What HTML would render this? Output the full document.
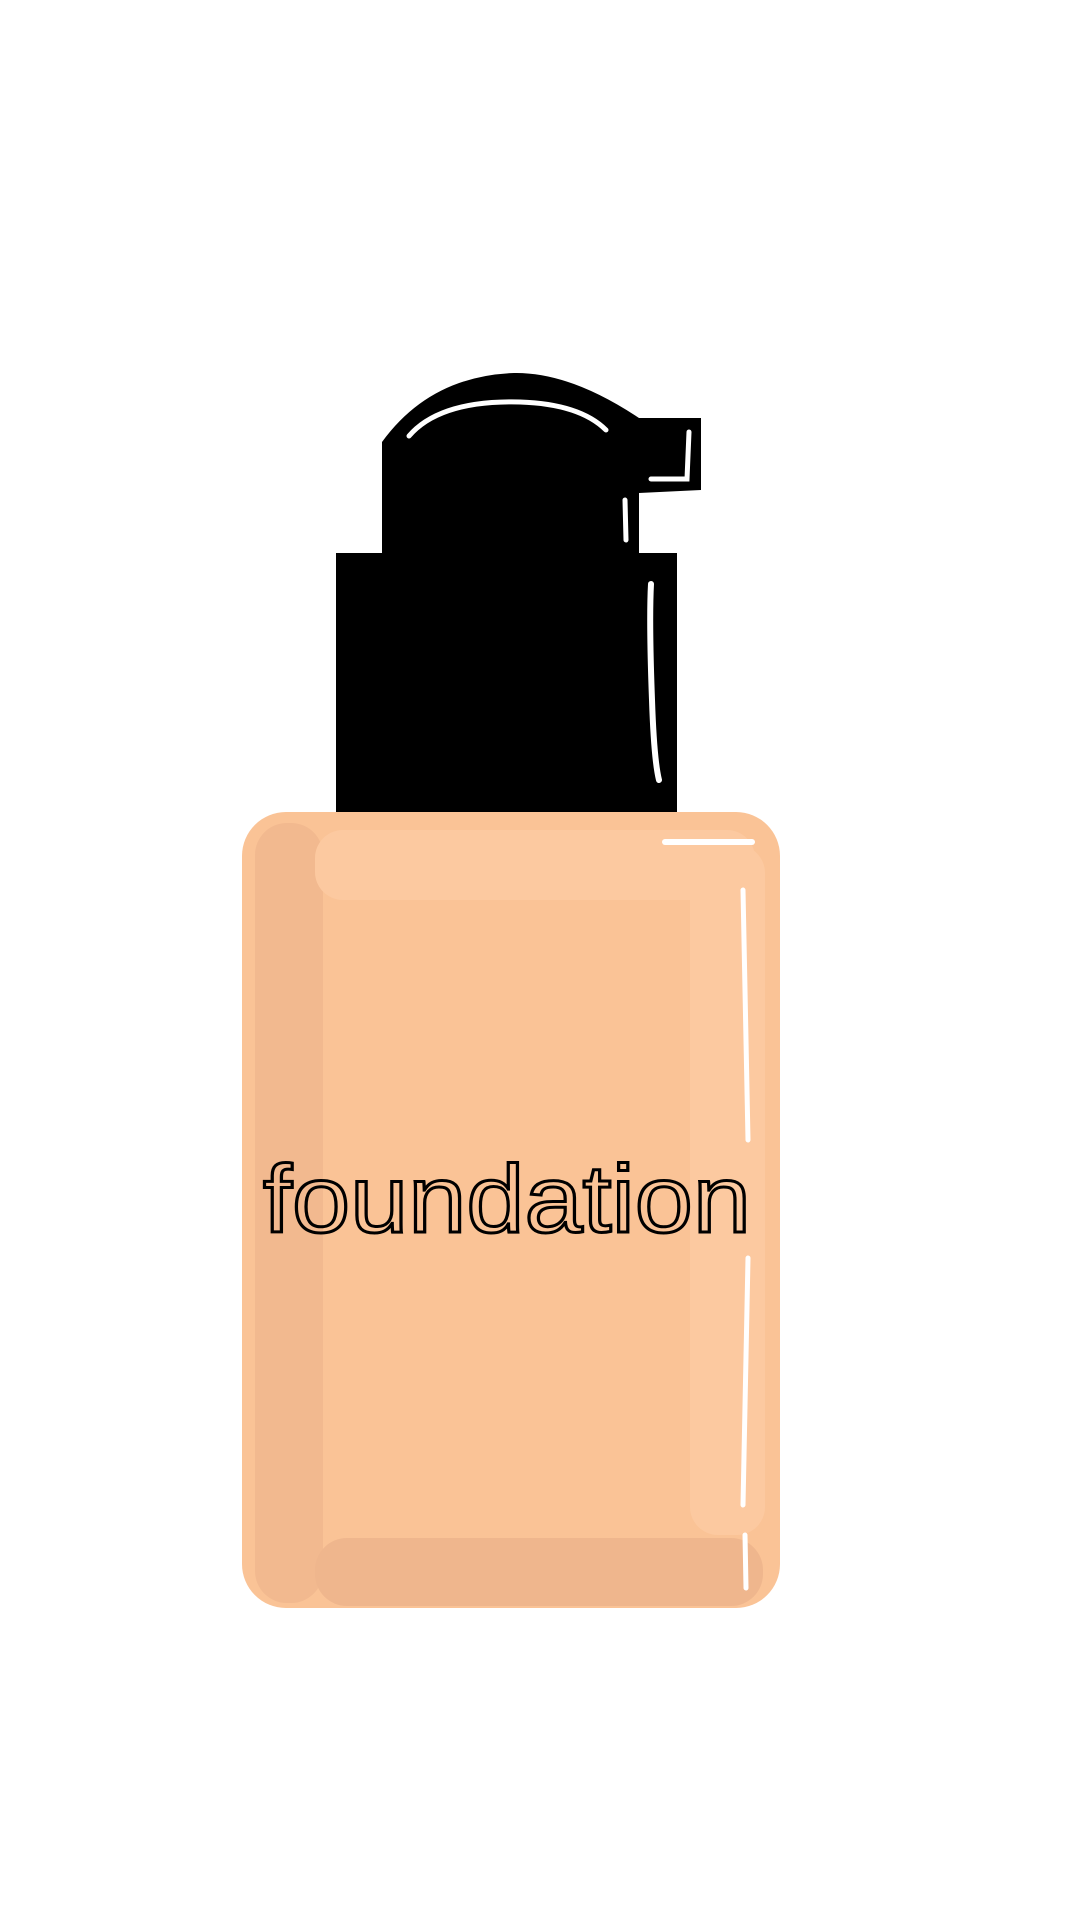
<!DOCTYPE html>
<html><head><meta charset="utf-8"><style>
html,body{margin:0;padding:0;background:#fff;width:1080px;height:1920px;overflow:hidden}
</style></head><body>
<svg width="1080" height="1920" viewBox="0 0 1080 1920">
<g>
<path d="M382,443 L382,442 Q430,376 514,373 Q570,372 639,418 L701,418 L701,490 L639,493 L639,553 L677,553 L677,813 L336,813 L336,553 L382,553 Z" fill="#000"/>
<path d="M409,436 Q440,400 520,402 Q580,404 606,430" fill="none" stroke="#fff" stroke-width="5" stroke-linecap="round"/>
<path d="M651,479 L687,479 L689,432" fill="none" stroke="#fff" stroke-width="5" stroke-linecap="round"/>
<path d="M625,500 L626,540" fill="none" stroke="#fff" stroke-width="5" stroke-linecap="round"/>
<path d="M651,584 Q649,620 652,700 Q654,760 659,780" fill="none" stroke="#fff" stroke-width="6" stroke-linecap="round"/>
</g>
<g>
<rect x="242" y="812" width="538" height="796" rx="44" fill="#fac396"/>
<rect x="255" y="823" width="68" height="780" rx="32" fill="#f2b98f"/>
<rect x="315" y="1538" width="448" height="68" rx="32" fill="#efb68d"/>
<rect x="315" y="830" width="440" height="70" rx="28" fill="#fcc9a0"/>
<rect x="690" y="845" width="75" height="690" rx="28" fill="#fcc9a0"/>
<path d="M665,842 L752,842" stroke="#fff" stroke-width="6" stroke-linecap="round"/>
<path d="M743,890 L748,1140" stroke="#fff" stroke-width="5" stroke-linecap="round"/>
<path d="M748,1258 L743,1505" stroke="#fff" stroke-width="5" stroke-linecap="round"/>
<path d="M745,1535 L746,1588" stroke="#fff" stroke-width="5" stroke-linecap="round"/>
<text x="263" y="1232" font-family="'Liberation Sans', sans-serif" font-size="96" textLength="488" lengthAdjust="spacingAndGlyphs" fill="none" stroke="#000" stroke-width="3">foundation</text>
</g>
</svg>
</body></html>
